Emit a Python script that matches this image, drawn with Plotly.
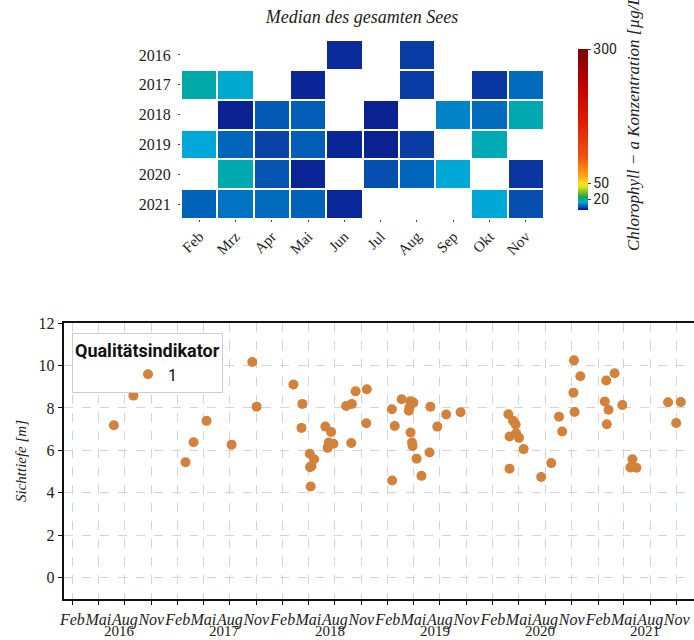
import plotly.graph_objects as go

# ---------------- data ----------------
months = ["Feb", "Mrz", "Apr", "Mai", "Jun", "Jul", "Aug", "Sep", "Okt", "Nov"]
years = ["2016", "2017", "2018", "2019", "2020", "2021"]
N = None
chl_2016 = [N, N, N, N, 2.5, N, 4.0, N, N, N]
chl_2017 = [18.0, 14.8, N, 2.0, N, N, 4.0, N, 3.5, 8.5]
chl_2018 = [N, 1.5, 6.5, 7.0, N, 1.5, N, 11.0, 8.5, 17.5]
chl_2019 = [14.0, 8.0, 4.5, 7.0, 2.0, 1.5, 4.0, N, 17.0, N]
chl_2020 = [N, 17.5, 6.0, 1.8, N, 5.5, 8.0, 14.0, N, 3.5]
chl_2021 = [7.5, 9.5, 8.5, 7.5, 2.2, N, N, N, 14.0, 5.5]
chl = [chl_2016, chl_2017, chl_2018, chl_2019, chl_2020, chl_2021]

sicht_dates = [
    "2016-06-24", "2016-08-31",
    "2017-02-28", "2017-03-28", "2017-05-12", "2017-08-07", "2017-10-18", "2017-11-02",
    "2018-03-10", "2018-04-10", "2018-04-07", "2018-05-06", "2018-05-21", "2018-05-12",
    "2018-05-07", "2018-05-09", "2018-06-29", "2018-07-19", "2018-07-11", "2018-07-07",
    "2018-07-27", "2018-09-09", "2018-09-29", "2018-09-27", "2018-10-12", "2018-11-20",
    "2018-11-18",
    "2019-02-15", "2019-02-25", "2019-02-16", "2019-03-21", "2019-04-20", "2019-05-01",
    "2019-04-15", "2019-04-17", "2019-04-21", "2019-04-26", "2019-04-28", "2019-05-12",
    "2019-05-29", "2019-06-29", "2019-06-26", "2019-07-23", "2019-08-23", "2019-10-12",
    "2020-03-26", "2020-04-11", "2020-04-20", "2020-03-30", "2020-04-22", "2020-05-02",
    "2020-05-18", "2020-03-30", "2020-07-18", "2020-08-22", "2020-09-18", "2020-09-29",
    "2020-11-09", "2020-11-07", "2020-11-11", "2020-12-01",
    "2021-03-01", "2021-03-30", "2021-02-24", "2021-03-09", "2021-03-03", "2021-04-26",
    "2021-05-31", "2021-05-24", "2021-06-14", "2021-10-02", "2021-11-15", "2021-10-30",
]
sicht_values = [
    7.18, 8.58,
    5.44, 6.38, 7.39, 6.27, 10.16, 8.06,
    9.10, 8.19, 7.06, 5.84, 5.58, 5.27,
    5.21, 4.30, 7.12, 6.87, 6.37, 6.12,
    6.31, 8.09, 8.19, 6.35, 8.78, 8.88,
    7.28,
    7.94, 7.15, 4.58, 8.41, 8.31, 8.25,
    7.87, 8.02, 6.84, 6.37, 6.21, 5.61,
    4.80, 8.06, 5.90, 7.12, 7.69, 7.80,
    7.70, 7.40, 7.22, 6.65, 6.81, 6.59,
    6.06, 5.14, 4.75, 5.40, 7.59, 6.89,
    10.24, 8.72, 7.81, 9.49,
    9.29, 9.63, 8.30, 7.91, 7.23, 8.14,
    5.58, 5.19, 5.18, 8.27, 8.28, 7.29,
]

tick_years = [2016, 2017, 2018, 2019, 2020, 2021]
tick_months = [("02", "Feb"), ("05", "Mai"), ("08", "Aug"), ("11", "Nov")]
tickvals = [f"{y}-{m}-01" for y in tick_years for m, _ in tick_months]
ticktext = [t for y in tick_years for _, t in tick_months]

# ---------------- figure ----------------
W, H = 694, 640
def px(x):
    return x / W
def py(y):
    return 1 - y / H

serif = "Liberation Serif"
sans = "Roboto"

cmax = 300.0
stops = [(0, "#0a1a86"), (2, "#0a2595"), (4, "#0a3ca5"), (6, "#0555b2"),
         (8, "#0066bb"), (10, "#0078c4"), (12, "#0090cc"), (14, "#00a8d8"),
         (16, "#00acc2"), (18, "#00a8a8"), (24, "#20a050"), (32, "#70b830"),
         (42, "#d8e020"), (50, "#ffe020"), (65, "#ffa010"), (100, "#f05010"),
         (160, "#e02000"), (230, "#c00000"), (300, "#800000")]
colorscale = [[v / cmax, c] for v, c in stops]

fig = go.Figure()

fig.add_trace(go.Heatmap(
    z=chl, x=months, y=years,
    colorscale=colorscale, zmin=0, zmax=cmax,
    xgap=2, ygap=2, hoverongaps=False,
    colorbar=dict(
        x=px(568), xanchor="left", y=py(39), yanchor="top",
        len=(220 - 39) / H, lenmode="fraction", thickness=10,
        outlinewidth=0, tickvals=[20, 50, 300], ticks="outside", ticklen=3,
        tickfont=dict(family=sans, size=14, color="#222"),
    ),
    xaxis="x", yaxis="y", showlegend=False,
))

fig.add_trace(go.Scatter(
    x=sicht_dates, y=sicht_values, mode="markers",
    marker=dict(color="#d2823a", size=10),
    name="1", xaxis="x2", yaxis="y2", showlegend=True,
))

fig.update_layout(
    width=W, height=H, margin=dict(l=0, r=0, t=0, b=0, autoexpand=False),
    paper_bgcolor="white", plot_bgcolor="white",
    title=dict(text="Median des gesamten Sees", x=px(362), y=py(17),
               xanchor="center", yanchor="middle",
               font=dict(family=serif, size=18, style="italic", color="#222")),
    xaxis=dict(domain=[px(181), px(544)], anchor="y", showgrid=False,
               zeroline=False, showline=False, ticks="outside", ticklen=2,
               tickcolor="#444", tickangle=-45, automargin=False,
               tickfont=dict(family=serif, size=15, color="#222")),
    yaxis=dict(domain=[py(219), py(40)], anchor="x", autorange="reversed",
               showgrid=False, zeroline=False, showline=False, ticks="outside",
               ticklen=2, tickcolor="#444", ticklabelstandoff=4, automargin=False,
               tickfont=dict(family=serif, size=16, color="#222")),
    xaxis2=dict(domain=[px(63.5), 1.0], anchor="y2", type="date",
                range=["2016-01-01", "2021-12-31"],
                tickvals=tickvals, ticktext=ticktext, tickangle=0,
                showgrid=True, gridcolor="#cfd5de", griddash="dash", gridwidth=1,
                showline=True, linecolor="#111", linewidth=1.5, mirror=True,
                ticks="outside", ticklen=4, tickcolor="#111",
                ticklabelstandoff=1, zeroline=False, automargin=False,
                tickfont=dict(family=serif, size=16, style="italic", color="#222")),
    yaxis2=dict(domain=[py(599), py(323)], anchor="x2", range=[-1, 12],
                tickvals=[0, 2, 4, 6, 8, 10, 12], automargin=False,
                showgrid=True, gridcolor="#cfd5de", griddash="dash", gridwidth=1,
                showline=True, linecolor="#111", linewidth=1.5, mirror=True,
                ticks="outside", ticklen=4, tickcolor="#111", zeroline=False,
                tickfont=dict(family=serif, size=16, color="#222"),
                title=dict(text="Sichttiefe [m]", standoff=8,
                           font=dict(family=serif, size=15, style="italic", color="#222"))),
    legend=dict(x=px(72), y=py(333), xanchor="left", yanchor="top",
                bgcolor="white", bordercolor="#cccccc", borderwidth=1,
                indentation=55,
                title=dict(text="<b>Qualitätsindikator</b>",
                           font=dict(family=sans, size=18, color="#111")),
                font=dict(family=sans, size=16, color="#111")),
)

for y in tick_years:
    fig.add_annotation(x=f"{y}-07-15", y=py(631), xref="x2", yref="paper",
                       text=str(y), showarrow=False, yanchor="middle",
                       font=dict(family=serif, size=15, color="#222"))

fig.add_annotation(x=px(633), y=py(120), xref="paper", yref="paper",
                   text="Chlorophyll − a Konzentration [µg/L]", textangle=-90,
                   showarrow=False, xanchor="center", yanchor="middle",
                   font=dict(family=serif, size=17, style="italic", color="#222"))

fig.write_html("out.html")
